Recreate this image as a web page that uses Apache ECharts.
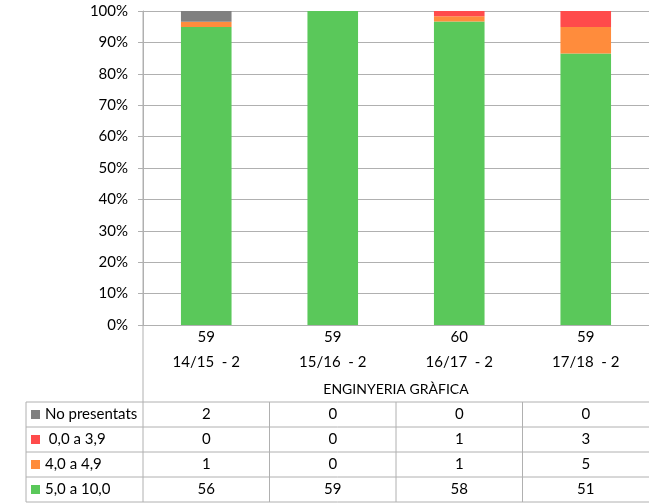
<!DOCTYPE html>
<html>
<head>
<meta charset="utf-8">
<script src="https://cdn.jsdelivr.net/npm/echarts@6/dist/echarts.min.js"></script>
<style>
  html, body { margin: 0; padding: 0; background: #fff; }
  #chart { width: 649px; height: 503px; }
</style>
</head>
<body>
<div id="chart"></div>
<script>
const categories = ['14/15  - 2', '15/16  - 2', '16/17  - 2', '17/18  - 2'];
const groupTitle = 'ENGINYERIA GRÀFICA';
const seriesNames = ['5,0 a 10,0', '4,0 a 4,9', ' 0,0 a 3,9', 'No presentats'];
const aprovats     = [56, 59, 58, 51];
const suspesos4    = [1, 0, 1, 5];
const suspesos0    = [0, 0, 1, 3];
const noPresentats = [2, 0, 0, 0];
const colors = ['#5ac85a', '#ff8c3c', '#ff4b4b', '#808080'];

const counts = [aprovats, suspesos4, suspesos0, noPresentats];
const totals = categories.map((_, i) => counts.reduce((s, arr) => s + arr[i], 0));

// layout of the grid + table below it
const W = 649, gLeft = 143, gTop = 11, gBottom = 325;
const tLeft = 26, tTop = 402, rowH = 25;
const colW = (W - gLeft) / categories.length;
const font = 'Lato, "Open Sans", sans-serif';
const lineColor = '#b0b0b0';

const series = counts.map((arr, k) => ({
    name: seriesNames[k],
    type: 'bar',
    stack: 'total',
    barWidth: '40%',
    itemStyle: { color: colors[k] },
    data: arr.map((v, i) => totals[i] ? v / totals[i] * 100 : 0)
}));

// table rows go top-down: No presentats, 0-3.9, 4-4.9, 5-10
const rowOrder = [3, 2, 1, 0];
const graphic = [];
graphic.push({ type: 'line', shape: { x1: gLeft, y1: gTop, x2: gLeft, y2: tTop + rowH * 4 },
    style: { stroke: lineColor, lineWidth: 1 } });
graphic.push({ type: 'text', x: gLeft + (W - gLeft) / 2, y: 389,
    style: { text: groupTitle, font: '14px ' + font, fill: '#000', align: 'center', verticalAlign: 'middle' } });
for (let r = 0; r <= 4; r++) {
    graphic.push({ type: 'line', shape: { x1: tLeft, y1: tTop + r * rowH, x2: W, y2: tTop + r * rowH },
        style: { stroke: lineColor, lineWidth: 1 } });
}
graphic.push({ type: 'line', shape: { x1: tLeft, y1: tTop, x2: tLeft, y2: tTop + 4 * rowH },
    style: { stroke: lineColor, lineWidth: 1 } });
for (let c = 1; c < categories.length; c++) {
    graphic.push({ type: 'line', shape: { x1: gLeft + c * colW, y1: tTop, x2: gLeft + c * colW, y2: tTop + 4 * rowH },
        style: { stroke: lineColor, lineWidth: 1 } });
}
rowOrder.forEach((k, r) => {
    const cy = tTop + r * rowH + rowH / 2;
    graphic.push({ type: 'rect', shape: { x: 31, y: cy - 4.5, width: 9, height: 9 },
        style: { fill: colors[k] } });
    graphic.push({ type: 'text', x: 45, y: cy,
        style: { text: seriesNames[k], font: '15px ' + font, fill: '#000', verticalAlign: 'middle' } });
    counts[k].forEach((v, i) => {
        graphic.push({ type: 'text', x: gLeft + colW * (i + 0.5), y: cy,
            style: { text: String(v), font: '15px ' + font, fill: '#000', align: 'center', verticalAlign: 'middle' } });
    });
});

const chart = echarts.init(document.getElementById('chart'), null, { renderer: 'canvas' });
chart.setOption({
    animation: false,
    grid: { left: gLeft, top: gTop, right: 0, bottom: 503 - gBottom },
    xAxis: {
        type: 'category',
        data: categories,
        axisLine: { lineStyle: { color: lineColor } },
        axisTick: { length: 51, lineStyle: { color: lineColor } },
        axisLabel: {
            margin: 0,
            lineHeight: 25,
            fontFamily: font,
            fontSize: 15,
            color: '#000',
            formatter: (val, idx) => totals[idx] + '\n' + val
        }
    },
    yAxis: {
        type: 'value',
        min: 0,
        max: 100,
        interval: 10,
        axisLine: { show: true, lineStyle: { color: lineColor } },
        axisTick: { show: true, length: 5, lineStyle: { color: lineColor } },
        splitLine: { lineStyle: { color: lineColor } },
        axisLabel: { formatter: '{value}%', margin: 15, fontFamily: font, fontSize: 15, color: '#000' }
    },
    series: series,
    graphic: graphic
});
</script>
</body>
</html>
